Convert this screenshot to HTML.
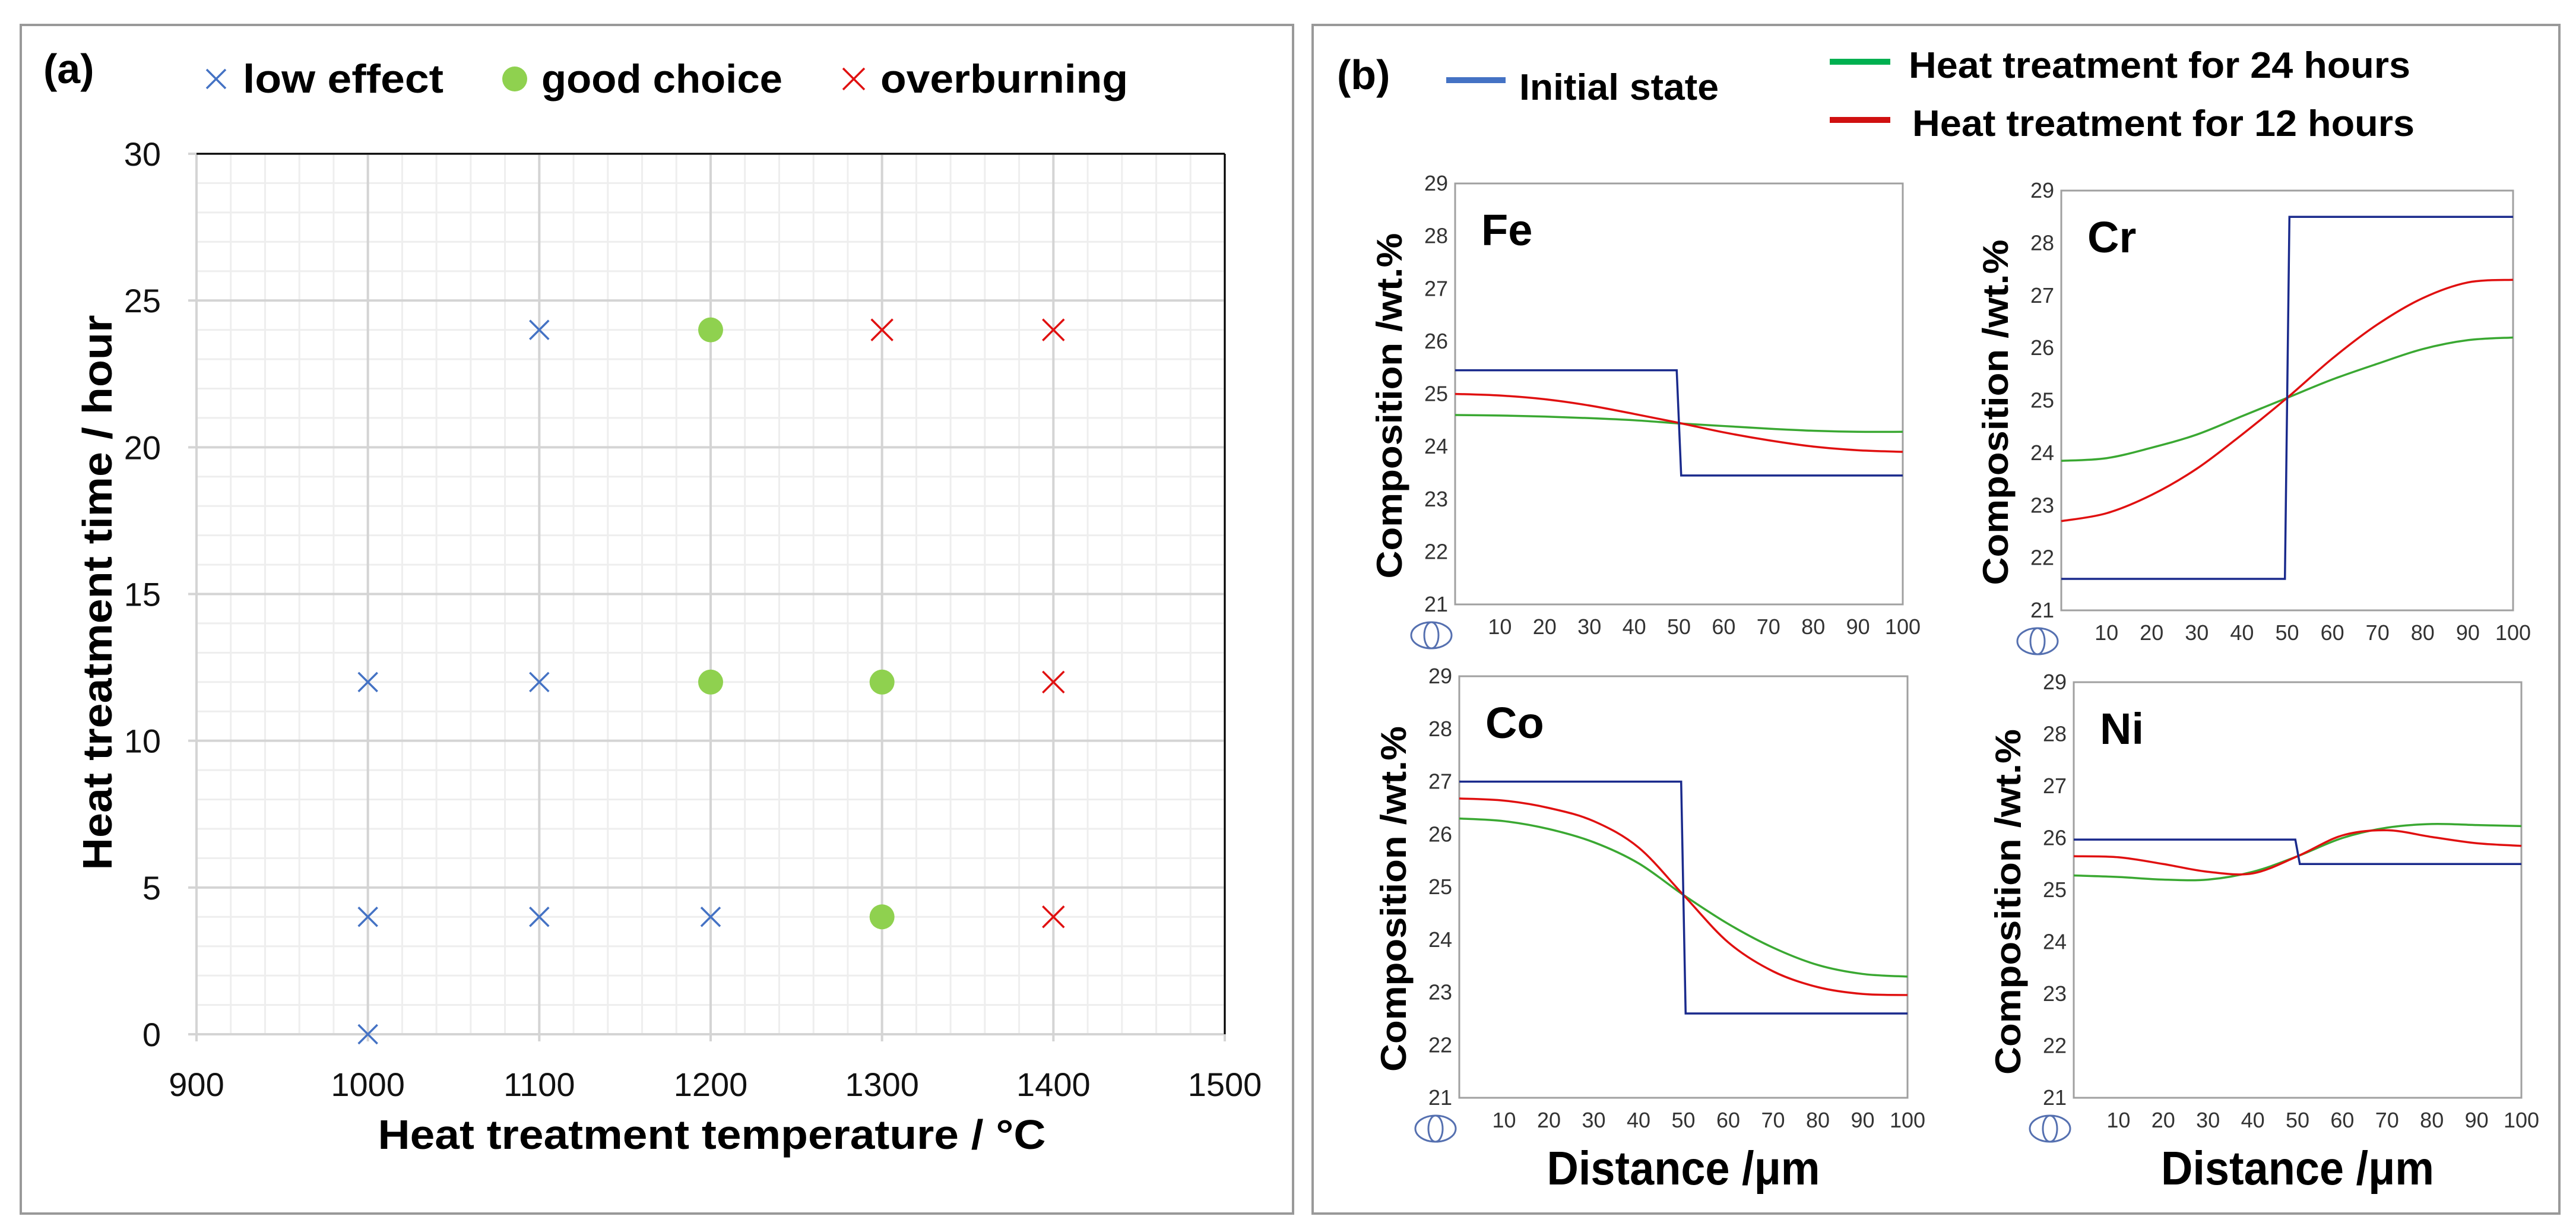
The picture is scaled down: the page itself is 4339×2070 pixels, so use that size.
<!DOCTYPE html>
<html><head><meta charset="utf-8"><style>
html,body{margin:0;padding:0;background:#fff}
svg{display:block}
text{font-family:"Liberation Sans",sans-serif}
</style></head><body>
<svg id="svg" width="4339" height="2070" viewBox="0 0 4339 2070" xmlns="http://www.w3.org/2000/svg">
<rect x="35" y="42" width="2143" height="2002" fill="none" stroke="#999" stroke-width="4"/>
<rect x="2211" y="42" width="2100" height="2002" fill="none" stroke="#999" stroke-width="4"/>
<g id="pa"></g>
<g id="pb"></g>
</svg>
<script>
// Panel (a) data
const lowX=[1000,1000,1000,1100,1100,1100,1200];
const lowY=[0,4,12,4,12,24,4];
const goodX=[1200,1200,1300,1300];
const goodY=[24,12,12,4];
const overX=[1300,1400,1400,1400];
const overY=[24,24,12,4];
const aXTicks=[900,1000,1100,1200,1300,1400,1500];
const aYTicks=[0,5,10,15,20,25,30];

// Panel (b) data
const distX=[0,10,20,30,40,50,60,70,80,90,100];
const bXTicks=[10,20,30,40,50,60,70,80,90,100];
const bYTicks=[21,22,23,24,25,26,27,28,29];
const stepX=[49.5,50.5];
const feInit=[25.45,23.45];
const fe12=[25.0,24.97,24.9,24.78,24.62,24.45,24.27,24.12,24.0,23.93,23.9];
const fe24=[24.6,24.59,24.57,24.54,24.5,24.44,24.39,24.34,24.3,24.28,24.28];
const crInit=[21.6,28.5];
const cr12=[22.7,22.85,23.2,23.7,24.35,25.05,25.8,26.45,26.95,27.25,27.3];
const cr24=[23.85,23.9,24.1,24.35,24.7,25.05,25.4,25.7,25.98,26.15,26.2];
const coInit=[27.0,22.6];
const co12=[26.68,26.64,26.5,26.25,25.75,24.85,23.95,23.4,23.1,22.97,22.95];
const co24=[26.3,26.25,26.1,25.85,25.45,24.85,24.3,23.85,23.52,23.35,23.3];
const niInit=[25.97,25.5];
const ni12=[25.65,25.63,25.5,25.35,25.32,25.65,26.05,26.15,26.02,25.9,25.85];
const ni24=[25.28,25.25,25.2,25.2,25.35,25.65,26.0,26.2,26.27,26.25,26.23];

const NS="http://www.w3.org/2000/svg";
function mk(tag,attrs,parent,txt){const e=document.createElementNS(NS,tag);for(const k in attrs)e.setAttribute(k,attrs[k]);if(txt!==undefined)e.textContent=txt;parent.appendChild(e);return e;}

// ---------- Panel a ----------
const pa=document.getElementById('pa');
const aL=331,aR=2063,aT=259,aB=1742;
const ax=v=>aL+(v-900)/600*(aR-aL);
const ay=v=>aB-(v/30)*(aB-aT);
for(let v=900;v<=1500;v+=20){if(v%100===0)continue;const l=mk('line',{x1:ax(v),x2:ax(v),y1:aT,y2:aB,stroke:'#eeeeee','stroke-width':3},pa);}
for(let v=0;v<=30;v+=1){if(v%5===0)continue;const l=mk('line',{x1:aL,x2:aR,y1:ay(v),y2:ay(v),stroke:'#eeeeee','stroke-width':3},pa);}
aXTicks.forEach(v=>{const l=mk('line',{x1:ax(v),x2:ax(v),y1:aT,y2:aB+12,stroke:'#d4d4d4','stroke-width':4},pa);
 const t=mk('text',{x:ax(v),y:aB+104,'font-size':56,'text-anchor':'middle',fill:'#111'},pa,String(v));});
aYTicks.forEach(v=>{const l=mk('line',{x1:aL-14,x2:aR,y1:ay(v),y2:ay(v),stroke:'#d4d4d4','stroke-width':4},pa);
 const t=mk('text',{x:271,y:ay(v)+20,'font-size':56,'text-anchor':'end',fill:'#111'},pa,String(v));});
mk('line',{x1:aL,x2:aR,y1:aT,y2:aT,stroke:'#000','stroke-width':3},pa);
mk('line',{x1:aR,x2:aR,y1:aT,y2:aB,stroke:'#000','stroke-width':3},pa);
function cross(cx,cy,col,s,name){const g=mk('g',{},pa);
 mk('line',{x1:cx-s,y1:cy-s,x2:cx+s,y2:cy+s,stroke:col,'stroke-width':3.5},g);mk('line',{x1:cx-s,y1:cy+s,x2:cx+s,y2:cy-s,stroke:col,'stroke-width':3.5},g);}
lowX.forEach((v,i)=>cross(ax(v),ay(lowY[i]),'#4472c4',16,'low-effect-point'));
overX.forEach((v,i)=>cross(ax(v),ay(overY[i]),'#e01010',18,'overburning-point'));
goodX.forEach((v,i)=>{const c=mk('circle',{cx:ax(v),cy:ay(goodY[i]),r:21,fill:'#8fd14f'},pa);});
let t;
t=mk('text',{x:73,y:140,'font-size':70,'font-weight':'bold'},pa,'(a)');
cross(364,133,'#4472c4',16,'legend-low-effect-marker');
t=mk('text',{x:409,y:156,'font-size':68,'font-weight':'bold',textLength:338,lengthAdjust:'spacingAndGlyphs'},pa,'low effect');
const lc=mk('circle',{cx:867,cy:133,r:21,fill:'#8fd14f'},pa);
t=mk('text',{x:912,y:156,'font-size':68,'font-weight':'bold',textLength:406,lengthAdjust:'spacingAndGlyphs'},pa,'good choice');
cross(1438,133,'#e01010',18,'legend-overburning-marker');
t=mk('text',{x:1483,y:156,'font-size':68,'font-weight':'bold',textLength:417,lengthAdjust:'spacingAndGlyphs'},pa,'overburning');
t=mk('text',{x:1199,y:1935,'font-size':70,'font-weight':'bold','text-anchor':'middle',textLength:1125,lengthAdjust:'spacingAndGlyphs'},pa,'Heat treatment temperature / °C');
t=mk('text',{x:0,y:0,'font-size':70,'font-weight':'bold','text-anchor':'middle',textLength:935,lengthAdjust:'spacingAndGlyphs',transform:'translate(188,998) rotate(-90)'},pa,'Heat treatment time / hour');

// ---------- Panel b ----------
const pb=document.getElementById('pb');
t=mk('text',{x:2252,y:150,'font-size':70,'font-weight':'bold'},pb,'(b)');
function legLine(x1,x2,y,col,name){const l=mk('line',{x1:x1,x2:x2,y1:y,y2:y,stroke:col,'stroke-width':10},pb);}
legLine(2436,2536,135,'#4472c4','legend-initial-line');
t=mk('text',{x:2559,y:168,'font-size':62,'font-weight':'bold',textLength:336,lengthAdjust:'spacingAndGlyphs'},pb,'Initial state');
legLine(3082,3184,104,'#00b050','legend-24h-line');
t=mk('text',{x:3215,y:131,'font-size':62,'font-weight':'bold',textLength:845,lengthAdjust:'spacingAndGlyphs'},pb,'Heat treatment for 24 hours');
legLine(3082,3184,202,'#d01010','legend-12h-line');
t=mk('text',{x:3221,y:229,'font-size':62,'font-weight':'bold',textLength:846,lengthAdjust:'spacingAndGlyphs'},pb,'Heat treatment for 12 hours');

function smoothPath(pts){let d='M'+pts[0][0]+','+pts[0][1];
 for(let i=0;i<pts.length-1;i++){const p0=pts[Math.max(0,i-1)],p1=pts[i],p2=pts[i+1],p3=pts[Math.min(pts.length-1,i+2)];
  const c1x=p1[0]+(p2[0]-p0[0])/6,c1y=p1[1]+(p2[1]-p0[1])/6,c2x=p2[0]-(p3[0]-p1[0])/6,c2y=p2[1]-(p3[1]-p1[1])/6;
  d+=` C${c1x},${c1y} ${c2x},${c2y} ${p2[0]},${p2[1]}`;}return d;}

function subplot(id,L,R,T,B,label,init,s12,s24,xTitle){
 const g=mk('g',{},pb);
 const sx=v=>L+v/100*(R-L), sy=v=>B-(v-21)/8*(B-T);
 const f=mk('rect',{x:L,y:T,width:R-L,height:B-T,fill:'none',stroke:'#a0a0a0','stroke-width':3},g);
 bYTicks.forEach(v=>{const tt=mk('text',{x:L-12,y:sy(v)+12,'font-size':36,'text-anchor':'end',fill:'#333'},g,String(v));});
 bXTicks.forEach(v=>{const tt=mk('text',{x:sx(v),y:B+50,'font-size':36,'text-anchor':'middle',fill:'#333'},g,String(v));});
 const ic=mk('g',{},g);
 mk('ellipse',{cx:L-40,cy:B+52,rx:34,ry:22,fill:'none',stroke:'#5570b0','stroke-width':3},ic);
 mk('ellipse',{cx:L-40,cy:B+52,rx:12,ry:22,fill:'none',stroke:'#5570b0','stroke-width':3},ic);
 const lt=mk('text',{x:L+44,y:T+104,'font-size':74,'font-weight':'bold'},g,label);
 const yt=mk('text',{x:0,y:0,'font-size':60,'font-weight':'bold','text-anchor':'middle',textLength:582,lengthAdjust:'spacingAndGlyphs',transform:`translate(${L-90},${(T+B)/2+20}) rotate(-90)`},g,'Composition /wt.%');
 const p24=mk('path',{d:smoothPath(distX.map((x,i)=>[sx(x),sy(s24[i])])),fill:'none',stroke:'#3aa832','stroke-width':3.5},g);
 const p12=mk('path',{d:smoothPath(distX.map((x,i)=>[sx(x),sy(s12[i])])),fill:'none',stroke:'#e01010','stroke-width':3.5},g);
 const d=`M${sx(0)},${sy(init[0])} L${sx(stepX[0])},${sy(init[0])} L${sx(stepX[1])},${sy(init[1])} L${sx(100)},${sy(init[1])}`;
 const pi=mk('path',{d:d,fill:'none',stroke:'#1a2a8c','stroke-width':3.5},g);
 if(xTitle){const xt=mk('text',{x:(L+R)/2,y:1995,'font-size':80,'font-weight':'bold','text-anchor':'middle',textLength:460,lengthAdjust:'spacingAndGlyphs'},g,'Distance /μm');}
}
subplot('fe',2451,3205,309,1018,'Fe',feInit,fe12,fe24,false);
subplot('cr',3472,4233,321,1028,'Cr',crInit,cr12,cr24,false);
subplot('co',2458,3213,1139,1849,'Co',coInit,co12,co24,true);
subplot('ni',3493,4247,1149,1849,'Ni',niInit,ni12,ni24,true);
</script>
</body></html>
